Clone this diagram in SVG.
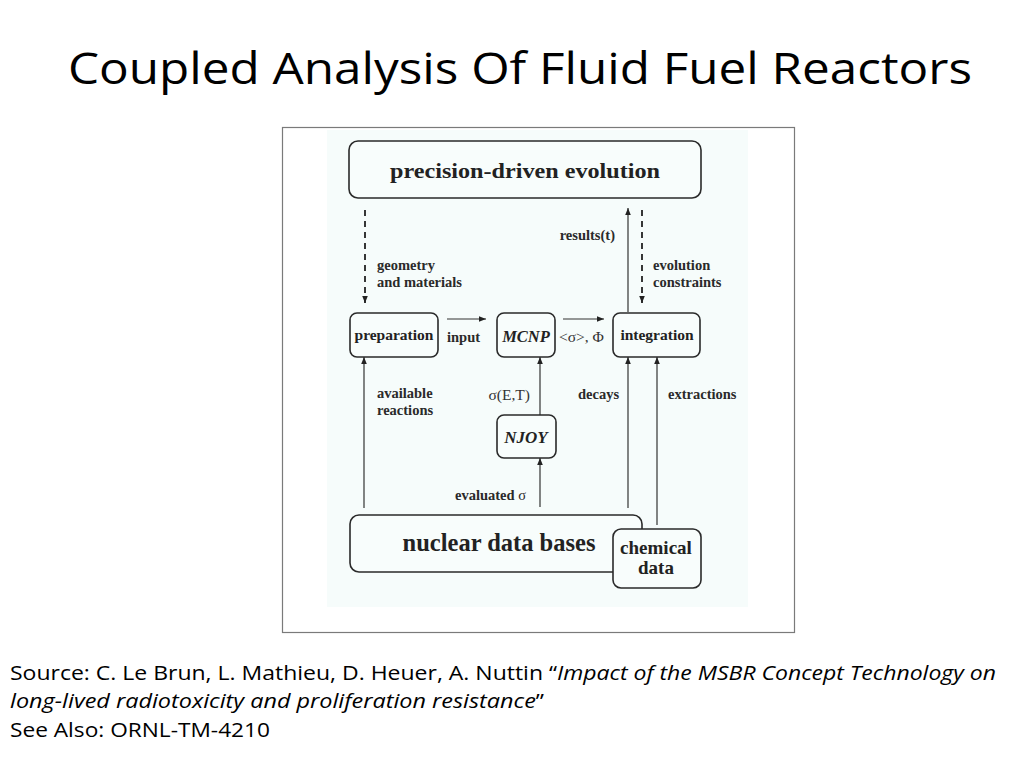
<svg xmlns="http://www.w3.org/2000/svg" width="1024" height="768" viewBox="0 0 1024 768">
<defs>
<marker id="ah" viewBox="0 0 10 10" refX="10" refY="5" markerWidth="7" markerHeight="7" markerUnits="userSpaceOnUse" orient="auto">
<path d="M0,1 L10,5 L0,9 z" fill="#222"/>
</marker>
<style>
.box{fill:#f8fdfc;stroke:#2a2a2a;stroke-width:1.6}
.ln{stroke:#333;stroke-width:1.2;fill:none}
.dash{stroke:#222;stroke-width:1.8;fill:none;stroke-dasharray:6,5}
.lbl{font-family:"Liberation Serif",serif;font-weight:bold;font-size:14.5px;fill:#2a2a2a}
.reg{font-family:"Liberation Serif",serif;font-size:15.5px;fill:#333}
.nd{font-family:"Liberation Serif",serif;font-weight:bold;fill:#222}
.it{font-style:italic}
.cal{font-family:"Open Sans","Liberation Sans",sans-serif;fill:#000}
</style>
</defs>
<rect width="1024" height="768" fill="#fff"/>
<text class="cal" x="520" y="84" font-size="44" text-anchor="middle" textLength="904" lengthAdjust="spacingAndGlyphs">Coupled Analysis Of Fluid Fuel Reactors</text>
<rect x="282.5" y="127.5" width="512" height="505" fill="#fff" stroke="#7a7a7a" stroke-width="1.2"/>
<rect x="327" y="130" width="421" height="477" fill="#f6fcfb"/>
<g id="connectors">
<line class="dash" x1="365" y1="210" x2="365" y2="303" marker-end="url(#ah)"/>
<line class="dash" x1="642" y1="210" x2="642" y2="303" marker-end="url(#ah)"/>
<line class="ln" x1="628" y1="312" x2="628" y2="208" marker-end="url(#ah)"/>
<line class="ln" x1="447" y1="319" x2="486" y2="319" marker-end="url(#ah)"/>
<line class="ln" x1="563" y1="319" x2="604" y2="319" marker-end="url(#ah)"/>
<line class="ln" x1="364" y1="508" x2="364" y2="357" marker-end="url(#ah)"/>
<line class="ln" x1="540" y1="415" x2="540" y2="357" marker-end="url(#ah)"/>
<line class="ln" x1="540" y1="507" x2="540" y2="458" marker-end="url(#ah)"/>
<line class="ln" x1="628" y1="508" x2="628" y2="357" marker-end="url(#ah)"/>
<line class="ln" x1="657" y1="525" x2="657" y2="357" marker-end="url(#ah)"/>
<text class="lbl" x="377" y="270">geometry</text>
<text class="lbl" x="377" y="287">and materials</text>
<text class="lbl" x="615" y="240" text-anchor="end">results(t)</text>
<text class="lbl" x="653" y="270">evolution</text>
<text class="lbl" x="653" y="287">constraints</text>
<text class="lbl" x="447" y="342" font-size="15.5">input</text>
<text class="reg" x="559" y="342" font-size="16">&lt;σ&gt;, Φ</text>
<text class="lbl" x="377" y="398">available</text>
<text class="lbl" x="377" y="415">reactions</text>
<text class="reg" x="530" y="400" text-anchor="end">σ(E,T)</text>
<text class="lbl" x="578" y="399">decays</text>
<text class="lbl" x="668" y="399">extractions</text>
<text class="lbl" x="455" y="500" font-size="15">evaluated <tspan font-weight="normal">σ</tspan></text>
</g>
<g id="precision">
<rect class="box" x="349" y="141" width="352" height="57" rx="9"/>
<text class="nd" x="525" y="178" font-size="20" text-anchor="middle" textLength="270" lengthAdjust="spacingAndGlyphs">precision-driven evolution</text>
</g>
<g id="preparation">
<rect class="box" x="350" y="313" width="88" height="44" rx="7"/>
<text class="nd" x="394" y="340" font-size="15.5" text-anchor="middle">preparation</text>
</g>
<g id="mcnp">
<rect class="box" x="497" y="313" width="58" height="44" rx="7"/>
<text class="nd it" x="526" y="342" font-size="16.5" text-anchor="middle">MCNP</text>
</g>
<g id="integration">
<rect class="box" x="613" y="313" width="87" height="44" rx="7"/>
<text class="nd" x="657" y="340" font-size="15.5" text-anchor="middle">integration</text>
</g>
<g id="njoy">
<rect class="box" x="497" y="415" width="59" height="43" rx="7"/>
<text class="nd it" x="526" y="443" font-size="17" text-anchor="middle">NJOY</text>
</g>
<g id="nuclear">
<rect class="box" x="350" y="515" width="292" height="57" rx="9"/>
<text class="nd" x="499" y="551" font-size="24.5" text-anchor="middle">nuclear data bases</text>
</g>
<g id="chemical">
<rect class="box" x="613" y="529" width="88" height="59" rx="8"/>
<text class="nd" x="656" y="554" font-size="19" text-anchor="middle">chemical</text>
<text class="nd" x="656" y="574" font-size="19" text-anchor="middle">data</text>
</g>
<text class="cal" x="10" y="680" font-size="20" textLength="986" lengthAdjust="spacingAndGlyphs">Source: C. Le Brun, L. Mathieu, D. Heuer, A. Nuttin “<tspan font-style="italic">Impact of the MSBR Concept Technology on</tspan></text>
<text class="cal" x="10" y="708" font-size="20" textLength="534" lengthAdjust="spacingAndGlyphs"><tspan font-style="italic">long-lived radiotoxicity and proliferation resistance</tspan>”</text>
<text class="cal" x="10" y="737" font-size="20" textLength="260" lengthAdjust="spacingAndGlyphs">See Also: ORNL-TM-4210</text>
</svg>
